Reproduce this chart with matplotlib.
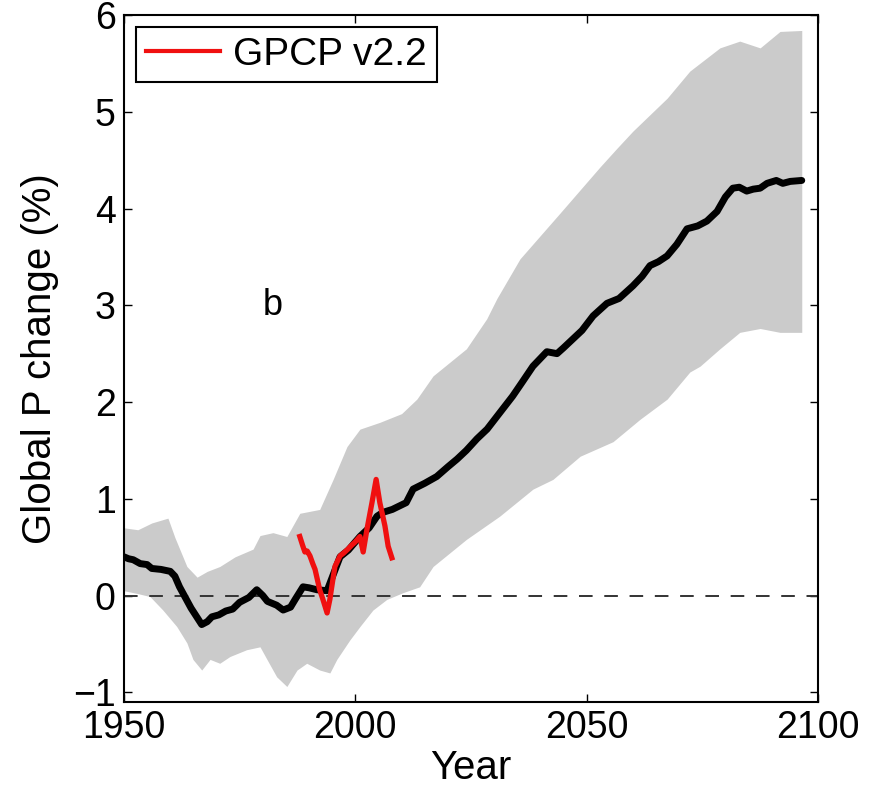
import matplotlib
matplotlib.use("Agg")
import matplotlib.pyplot as plt
import numpy as np

plt.rcParams['font.family'] = ['Liberation Sans', 'DejaVu Sans']

# Ensemble mean (black line)
mean_years = [1950, 1951, 1952, 1953.5, 1955, 1956, 1958, 1960, 1961, 1962, 1964.5, 1966.8,
              1968, 1969, 1970.5, 1972, 1973.5, 1975, 1977, 1978.7, 1980, 1981, 1983,
              1984.4, 1986, 1987, 1988.7, 1990, 1991.7, 1993.9, 1995.5, 1996.7, 1998.5,
              2001, 2003, 2004.7, 2006, 2008, 2011, 2012.5, 2015, 2017.6, 2020, 2022,
              2024, 2026.3, 2028.5, 2030.6, 2034, 2036, 2038.4, 2041.4, 2043.6, 2045,
              2047, 2049, 2051.4, 2054.4, 2057, 2060, 2062, 2063.7, 2065.5, 2067.4,
              2069.5, 2071.7, 2074, 2076, 2078.2, 2080, 2081.6, 2083, 2084.6, 2086,
              2087.5, 2089, 2091, 2092.4, 2094, 2096.5]
mean_vals = [0.40, 0.38, 0.37, 0.33, 0.32, 0.28, 0.27, 0.25, 0.20, 0.09, -0.13, -0.30,
             -0.27, -0.22, -0.20, -0.16, -0.14, -0.07, -0.02, 0.06, 0.00, -0.06, -0.10,
             -0.15, -0.12, -0.04, 0.09, 0.08, 0.06, 0.05, 0.25, 0.40, 0.47,
             0.61, 0.70, 0.82, 0.86, 0.89, 0.96, 1.10, 1.16, 1.23, 1.33, 1.41,
             1.50, 1.62, 1.72, 1.85, 2.06, 2.20, 2.37, 2.52, 2.50, 2.56,
             2.65, 2.74, 2.89, 3.02, 3.07, 3.20, 3.30, 3.41, 3.45, 3.51,
             3.63, 3.79, 3.82, 3.87, 3.97, 4.12, 4.21, 4.22, 4.18, 4.20,
             4.21, 4.26, 4.29, 4.26, 4.28, 4.29]

# Ensemble spread (grey band)
upper_years = [1950, 1953, 1956, 1959.5, 1961, 1963.6, 1965.8, 1968, 1970.7, 1974, 1977.9,
               1979.4, 1982.2, 1985.2, 1988, 1992.3, 1995.2, 1998.2, 2001, 2005.3, 2010,
               2013.3, 2016.8, 2024, 2028.4, 2030.6, 2035.6, 2044.2, 2052.9, 2056.5, 2060,
               2067.4, 2072.3, 2078.8, 2083.1, 2087.5, 2091.8, 2096.5]
upper_vals = [0.70, 0.68, 0.75, 0.80, 0.60, 0.30, 0.19, 0.25, 0.30, 0.40, 0.48,
              0.62, 0.65, 0.61, 0.85, 0.89, 1.20, 1.54, 1.72, 1.79, 1.88,
              2.03, 2.27, 2.55, 2.86, 3.07, 3.48, 3.95, 4.43, 4.62, 4.80,
              5.14, 5.42, 5.66, 5.73, 5.66, 5.83, 5.84]
lower_years = [1950, 1953, 1955.6, 1958.4, 1961.4, 1963.6, 1964.9, 1966.8, 1968.6, 1970.7,
               1972.9, 1976.5, 1979.4, 1980.9, 1983, 1985.2, 1987.4, 1989.5, 1992.3, 1994.5,
               1996, 1998.8, 2001, 2003.8, 2006.8, 2010.3, 2013.9, 2016.8, 2024, 2031.2,
               2038.4, 2042.7, 2048.6, 2055.7, 2061.5, 2067.4, 2072.3, 2074.5, 2078.8,
               2083.1, 2087.5, 2091.8, 2096.5]
lower_vals = [0.05, 0.02, -0.01, -0.15, -0.32, -0.49, -0.66, -0.77, -0.66, -0.70,
              -0.63, -0.56, -0.53, -0.66, -0.84, -0.94, -0.77, -0.70, -0.77, -0.80,
              -0.66, -0.46, -0.32, -0.15, -0.04, 0.03, 0.09, 0.30, 0.58, 0.82,
              1.10, 1.20, 1.44, 1.59, 1.82, 2.03, 2.31, 2.37, 2.55,
              2.72, 2.76, 2.72, 2.72]

# GPCP v2.2 observations (red line)
gpcp_years = [1988, 1988.6, 1989.1, 1989.6, 1990.2, 1990.8, 1991.3, 1992.3, 1993, 1993.9,
              1994.5, 1995.1, 1995.6, 1996.7, 1997.5, 1998.4, 1999.2, 1999.9, 2001,
              2001.7, 2002.5, 2003.6, 2004.5, 2005.3, 2006.4, 2007.1, 2007.9]
gpcp_vals = [0.61, 0.52, 0.45, 0.46, 0.41, 0.33, 0.27, 0.06, -0.04, -0.18,
             -0.04, 0.15, 0.30, 0.41, 0.44, 0.48, 0.52, 0.55, 0.61,
             0.45, 0.68, 0.96, 1.20, 0.96, 0.72, 0.51, 0.39]

xticks = [1950, 2000, 2050, 2100]
yticks = [-1, 0, 1, 2, 3, 4, 5, 6]

fig = plt.figure(figsize=(8.75, 7.89), dpi=100)
ax = fig.add_axes([0.1417, 0.1103, 0.7931, 0.8707])

grid = np.union1d(upper_years, lower_years)
up = np.interp(grid, upper_years, upper_vals)
lo = np.interp(grid, lower_years, lower_vals)
ax.fill_between(grid, lo, up, color='#cbcbcb', lw=0, zorder=1)

ax.axhline(0, color='#333333', lw=1.4, ls=(0, (7, 6)), zorder=2)
ax.plot(mean_years, mean_vals, color='black', lw=5, solid_capstyle='round',
        solid_joinstyle='round', zorder=3)
ax.plot(gpcp_years, gpcp_vals, color='#f01010', lw=3.8, solid_joinstyle='round',
        label='GPCP v2.2', zorder=4)

ax.text(1982.2, 3.0, 'b', fontsize=26, ha='center', va='center')

ax.set_xlim(1950, 2100)
ax.set_ylim(-1.1, 6.0)
ax.set_xticks(xticks)
ax.set_yticks(yticks)
ax.set_yticklabels(['\u22121'] + [str(t) for t in yticks[1:]])
ax.tick_params(direction='in', top=True, right=True, length=6, width=1,
               labelsize=27, pad=6)
for s in ax.spines.values():
    s.set_linewidth(1.5)

ax.set_xlabel('Year', fontsize=29, labelpad=2)
ax.set_ylabel('Global P change (%)', fontsize=29, labelpad=10)

leg = ax.legend(loc='upper left', bbox_to_anchor=(0.0173, 0.9825), borderaxespad=0,
                fontsize=28, fancybox=False, framealpha=1, edgecolor='black',
                handlelength=1.9, handletextpad=0.35, borderpad=0.25)
leg.get_frame().set_linewidth(1.5)
for h in leg.get_lines():
    h.set_linewidth(3)

fig.savefig('out.png', dpi=100)
